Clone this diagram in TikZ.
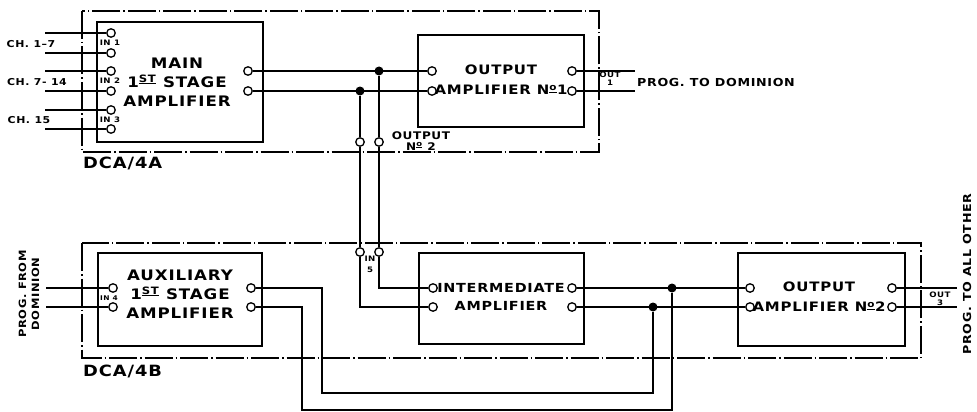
\documentclass[tikz,border=0pt]{standalone}
\usepackage{fontspec}
\usepackage{tikz}
\usetikzlibrary{positioning,calc}
\newfontfamily\lettering[FakeStretch=1.15,LetterSpace=6]{DejaVu Sans}

\begin{document}
\begin{tikzpicture}[x=1pt,y=-1pt,
  wire/.style={line width=2.8pt},
  ampbox/.style={draw, line width=1.6pt, inner sep=0pt},
  frame/.style={line width=1.2pt, dash pattern=on 28pt off 3pt on 1.5pt off 3pt},
  term/.style={circle, draw, fill=white, line width=1.3pt, inner sep=0pt, minimum size=8.5pt},
  jdot/.style={circle, fill=black, inner sep=0pt, minimum size=9pt},
  bigtxt/.style={font=\lettering\bfseries\fontsize{14.5}{19}\selectfont, align=center, inner sep=0pt},
  midtxt/.style={font=\lettering\bfseries\fontsize{15.5}{18}\selectfont, inner sep=0pt},
  smalltxt/.style={font=\lettering\bfseries\fontsize{9.5}{11}\selectfont, inner sep=0pt, align=center},
  tinytxt/.style={font=\lettering\bfseries\fontsize{7.5}{8}\selectfont, inner sep=0pt, align=center}]
  \useasboundingbox (0,0) rectangle (977,412);

  % cabinets
  \draw[frame] (82,11) rectangle (599,152);
  \draw[frame] (82,243) rectangle (921,358);
  \node[midtxt, anchor=west] (dcaA) at (83,163) {DCA/4A};
  \node[midtxt, anchor=west] (dcaB) at (83,371) {DCA/4B};

  % amplifier boxes
  \node[ampbox, minimum width=166pt, minimum height=120pt] (main) at (180,82) {};
  \node[ampbox, minimum width=166pt, minimum height=92pt] (oa1) at (501,81) {};
  \node[ampbox, minimum width=164pt, minimum height=93pt] (aux) at (180,299.5) {};
  \node[ampbox, minimum width=165pt, minimum height=91pt] (inter) at (501.5,298.5) {};
  \node[ampbox, minimum width=167pt, minimum height=93pt] (oa2) at (821.5,299.5) {};

  \node[bigtxt] (maintxt) at (177,82) {MAIN\\1\textsuperscript{\underline{ST}} STAGE\\AMPLIFIER};
  \node[bigtxt, font=\lettering\bfseries\fontsize{13}{19}\selectfont] (oa1txt) at (501,80) {OUTPUT\\[1pt]AMPLIFIER N\textsuperscript{\underline{o}}1};
  \node[bigtxt] (auxtxt) at (180,294) {AUXILIARY\\1\textsuperscript{\underline{ST}} STAGE\\AMPLIFIER};
  \node[bigtxt, font=\lettering\bfseries\fontsize{12.5}{18}\selectfont] (intertxt) at (501,297) {INTERMEDIATE\\AMPLIFIER};
  \node[bigtxt, font=\lettering\bfseries\fontsize{13}{19}\selectfont] (oa2txt) at (819,297) {OUTPUT\\[1pt]AMPLIFIER N\textsuperscript{\underline{o}}2};

  % terminals
  \foreach \n/\y in {1a/33,1b/53,2a/71,2b/91,3a/110,3b/129} {
    \node[term] (in\n) at (111,\y) {};
    \coordinate (src\n) at (45,\y);
  }
  \node[term] (mo1) at (248,71) {};
  \node[term] (mo2) at (248,91) {};
  \node[term] (oa1i1) at (432,71) {};
  \node[term] (oa1i2) at (432,91) {};
  \node[term] (oa1o1) at (572,71) {};
  \node[term] (oa1o2) at (572,91) {};
  \node[term] (on2a) at (360,142) {};
  \node[term] (on2b) at (379,142) {};
  \node[term] (in5a) at (360,252) {};
  \node[term] (in5b) at (379,252) {};
  \node[term] (ai1) at (113,288) {};
  \node[term] (ai2) at (113,307) {};
  \node[term] (ao1) at (251,288) {};
  \node[term] (ao2) at (251,307) {};
  \node[term] (ii1) at (433,288) {};
  \node[term] (ii2) at (433,307) {};
  \node[term] (io1) at (572,288) {};
  \node[term] (io2) at (572,307) {};
  \node[term] (oi1) at (750,288) {};
  \node[term] (oi2) at (750,307) {};
  \node[term] (oo1) at (892,288) {};
  \node[term] (oo2) at (892,307) {};

  \node[jdot] (j1) at (379,71) {};
  \node[jdot] (j2) at (360,91) {};
  \node[jdot] (k1) at (672,288) {};
  \node[jdot] (k2) at (653,307) {};

  \coordinate (dom1) at (635,71);
  \coordinate (dom2) at (635,91);
  \coordinate (aux1) at (46,288);
  \coordinate (aux2) at (46,307);
  \coordinate (all1) at (957,288);
  \coordinate (all2) at (957,307);
  \coordinate (bus1) at (322,393);
  \coordinate (bus2) at (302,410);

  % wiring
  \foreach \n in {1a,1b,2a,2b,3a,3b}
    \draw[wire] (src\n) -- (in\n);
  \draw[wire] (mo1) -- (oa1i1);
  \draw[wire] (mo2) -- (oa1i2);
  \draw[wire] (j1) -- (on2b);
  \draw[wire] (j2) -- (on2a);
  \draw[wire] (on2b) -- (in5b);
  \draw[wire] (on2a) -- (in5a);
  \draw[wire] (in5b) |- (ii1);
  \draw[wire] (in5a) |- (ii2);
  \draw[wire] (oa1o1) -- (dom1);
  \draw[wire] (oa1o2) -- (dom2);
  \draw[wire] (aux1) -- (ai1);
  \draw[wire] (aux2) -- (ai2);
  \draw[wire] (ao1) -| (bus1) -| (k2);
  \draw[wire] (ao2) -| (bus2) -| (k1);
  \draw[wire] (io1) -- (oi1);
  \draw[wire] (io2) -- (oi2);
  \draw[wire] (oo1) -- (all1);
  \draw[wire] (oo2) -- (all2);

  % labels
  \node[smalltxt] (ch1) at (31,44) {CH. 1\textendash7};
  \node[smalltxt] (ch2) at (37,82) {CH. 7- 14};
  \node[smalltxt] (ch3) at (29,120) {CH. 15};
  \node[tinytxt] (lin1) at (110,43) {IN 1};
  \node[tinytxt] (lin2) at (110,81) {IN 2};
  \node[tinytxt] (lin3) at (110,120) {IN 3};
  \node[tinytxt, font=\lettering\bfseries\fontsize{6.5}{8}\selectfont] (lin4) at (109,298) {IN 4};
  \node[tinytxt, font=\lettering\bfseries\fontsize{7.5}{11}\selectfont] (lin5) at (370,264) {IN\\5};
  \node[smalltxt, font=\lettering\bfseries\fontsize{10.5}{10.5}\selectfont] (lon2) at (421,141) {OUTPUT\\N\textsuperscript{\underline{o}} 2};
  \node[tinytxt] (lout1) at (610,79) {OUT\\1};
  \node[tinytxt] (lout3) at (940,299) {OUT\\3};
  \node[smalltxt, font=\lettering\bfseries\fontsize{11}{12}\selectfont, anchor=west] (todom) at (637,82) {PROG. TO DOMINION};
  \node[smalltxt, font=\lettering\bfseries\fontsize{10}{13}\selectfont, rotate=90] (fromdom) at (29,294) {PROG. FROM\\DOMINION};
  \node[smalltxt, font=\lettering\bfseries\fontsize{11}{12}\selectfont, rotate=90] (toall) at (967,274) {PROG. TO ALL OTHER};
\end{tikzpicture}
\end{document}
